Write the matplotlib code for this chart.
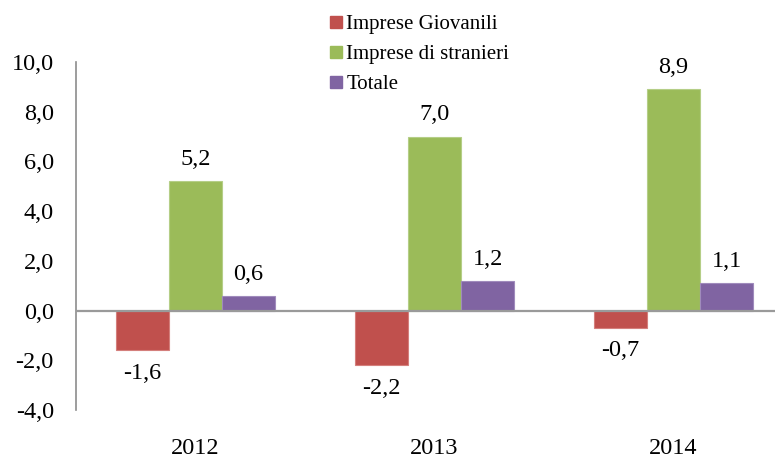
import matplotlib
matplotlib.use("Agg")
import matplotlib.pyplot as plt
from matplotlib.lines import Line2D
import numpy as np

plt.rcParams['font.family'] = ['Liberation Serif', 'DejaVu Serif']

# data
years = ['2012', '2013', '2014']
series = ['Imprese Giovanili', 'Imprese di stranieri', 'Totale']
giovanili = [-1.6, -2.2, -0.7]
stranieri = [5.2, 7.0, 8.9]
totale = [0.6, 1.2, 1.1]
yticks = [-4, -2, 0, 2, 4, 6, 8, 10]

colors = ['#C0504D', '#9BBB59', '#8064A2']
edges = ['#D47F7C', '#B5CE87', '#A08BBC']

fig = plt.figure(figsize=(7.75, 4.62), dpi=100)
ax = fig.add_axes([76 / 775, 52 / 462, 699 / 775, 348 / 462])

x = np.arange(len(years))
w = 0.222
for i, vals in enumerate([giovanili, stranieri, totale]):
    pos = x + (i - 1) * w
    ax.bar(pos, vals, w, color=colors[i], edgecolor=edges[i], linewidth=0.8, zorder=2)
    for p, v in zip(pos, vals):
        txt = f"{v:.1f}".replace('.', ',')
        if v >= 0:
            ax.annotate(txt, (p, v), xytext=(0, 8), textcoords='offset points',
                        ha='center', va='bottom', fontsize=17.5)
        else:
            ax.annotate(txt, (p, v), xytext=(0, -9), textcoords='offset points',
                        ha='center', va='top', fontsize=17.5)

ax.axhline(0, color='#9A9A9A', lw=1.6, zorder=3)
ax.set_ylim(-4, 10)
ax.set_xlim(-0.5, 2.5 - 18 / 239)
ax.set_yticks(yticks)
ax.set_yticklabels([f"{t:.1f}".replace('.', ',') for t in yticks], fontsize=17.5)
ax.set_xticks(x)
ax.set_xticklabels(years, fontsize=17.5)
ax.tick_params(axis='y', length=0, pad=16)
ax.tick_params(axis='x', length=0, pad=20)
for s in ['top', 'right', 'bottom']:
    ax.spines[s].set_visible(False)
ax.spines['left'].set_color('#8C8C8C')
ax.spines['left'].set_linewidth(1.2)

handles = [Line2D([], [], marker='s', linestyle='', markersize=9,
                  markerfacecolor=c, markeredgecolor=c) for c in colors]
fig.legend(handles, series, loc='upper left', bbox_to_anchor=(311 / 775, 1.0),
           frameon=False, fontsize=15, handletextpad=0.0, labelspacing=0.5,
           borderaxespad=0.3, handlelength=1.0)

fig.savefig('out.png', dpi=100)
